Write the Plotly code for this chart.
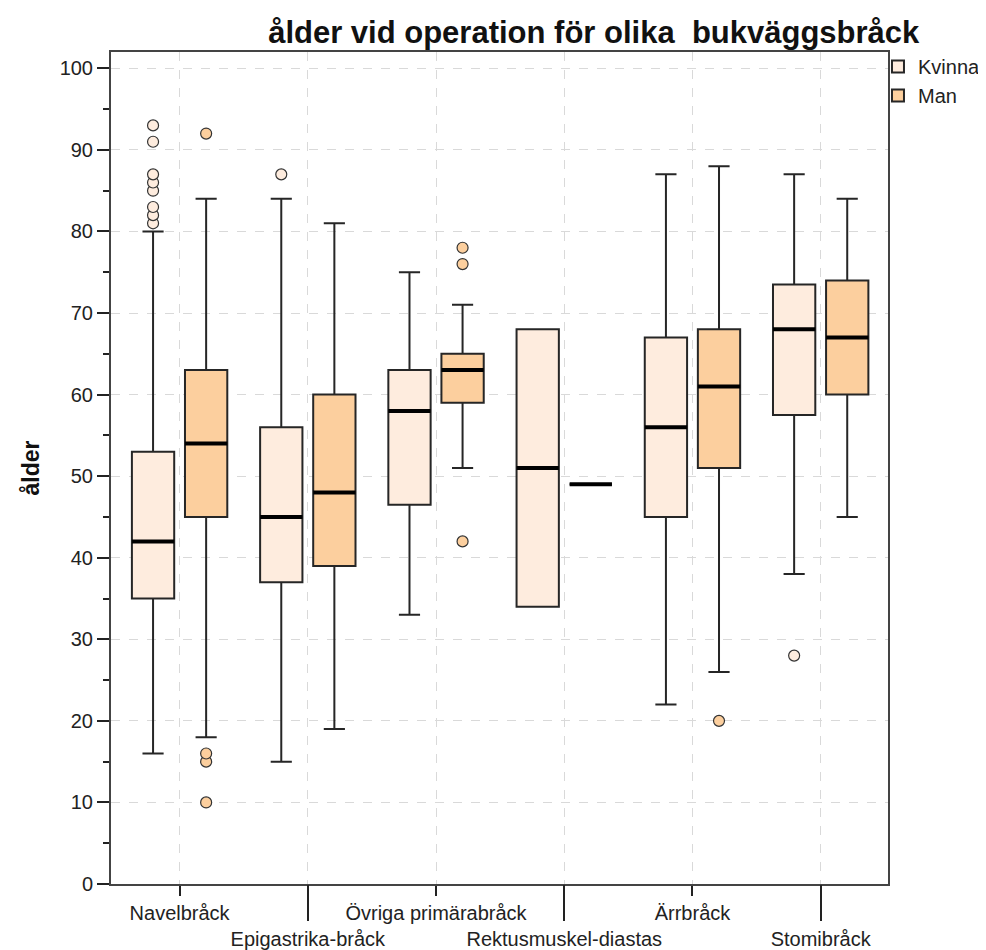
"""
Ålder vid operation för olika bukväggsbråck - boxplot (Kvinna / Man)
"""
import plotly.graph_objects as go

# kategorier (x-axel)
cats = ['Navelbråck', 'Epigastrika-bråck', 'Övriga primärabråck',
        'Rektusmuskel-diastas', 'Ärrbråck', 'Stomibråck']

# Kvinna - boxstatistik
kvinna_low = [16, 15, 33, 34, 22, 38]
kvinna_q1 = [35, 37, 46.5, 34, 45, 57.5]
kvinna_median = [42, 45, 58, 51, 56, 68]
kvinna_q3 = [53, 56, 63, 68, 67, 73.5]
kvinna_high = [80, 84, 75, 68, 87, 87]
kvinna_outliers = [[93, 91, 87, 86, 85, 83, 82, 81], [87], [], [], [], [28]]

# Man
man_low = [18, 19, 51, 49, 26, 45]
man_q1 = [45, 39, 59, 49, 51, 60]
man_median = [54, 48, 63, 49, 61, 67]
man_q3 = [63, 60, 65, 49, 68, 74]
man_high = [84, 81, 71, 49, 88, 84]
man_outliers = [[92, 16, 15, 10], [], [78, 76, 42], [], [20], []]

# y-axel
y_ticks = [0, 10, 20, 30, 40, 50, 60, 70, 80, 90, 100]

KVINNA_FILL = 'rgb(254,236,222)'
MAN_FILL = 'rgb(252,207,158)'
FONT = 'Liberation Sans, Arial, sans-serif'

fig = go.Figure()

series = [
    ('Kvinna', KVINNA_FILL, kvinna_low, kvinna_q1, kvinna_median, kvinna_q3, kvinna_high, kvinna_outliers),
    ('Man', MAN_FILL, man_low, man_q1, man_median, man_q3, man_high, man_outliers),
]

for name, fill, low, q1, med, q3, high, outl in series:
    fig.add_trace(go.Box(
        name=name,
        x=cats,
        y=outl,
        q1=q1, median=med, q3=q3,
        lowerfence=low, upperfence=high,
        offsetgroup=name,
        fillcolor=fill,
        line=dict(color='#262626', width=2),
        whiskerwidth=0.5,
        boxpoints='outliers',
        jitter=0, pointpos=0,
        marker=dict(color=fill, size=11, line=dict(color='#333333', width=1.2)),
    ))
    # tjock medianlinje ovanpå boxen
    fig.add_trace(go.Box(
        x=cats,
        q1=med, median=med, q3=med,
        lowerfence=med, upperfence=med,
        offsetgroup=name,
        fillcolor='rgba(0,0,0,0)',
        line=dict(color='black', width=4),
        whiskerwidth=0,
        boxpoints=False,
        showlegend=False,
        hoverinfo='skip',
    ))

# tom trace så att hjälpaxeln (långa streck) ritas
fig.add_trace(go.Scatter(x=[], y=[], xaxis='x2', yaxis='y',
                         showlegend=False, hoverinfo='skip'))

grid = dict(showgrid=True, gridcolor='#d9d9d9', griddash='dash', gridwidth=1)

# varannan etikett på en lägre rad (som i originalet)
x_ticktext = [c if i % 2 == 0 else '<br>' + c for i, c in enumerate(cats)]

fig.update_layout(
    width=978, height=942,
    margin=dict(l=103, r=98, t=44, b=66, autoexpand=False),
    paper_bgcolor='white', plot_bgcolor='white',
    boxmode='group', boxgap=0.172, boxgroupgap=0.203,
    font=dict(family=FONT, size=20, color='#222222'),
    title=dict(text='<b>ålder vid operation för olika  bukväggsbråck</b>',
               x=0.266, xanchor='left', y=0.9745, yanchor='middle',
               font=dict(size=31, color='#111111')),
    legend=dict(x=0.9871, xanchor='left', y=1.006, yanchor='top',
                font=dict(size=20), itemwidth=30, tracegroupgap=0,
                bgcolor='rgba(0,0,0,0)'),
    xaxis=dict(
        type='category', categoryorder='array', categoryarray=cats,
        range=[-0.535, 5.525],
        tickvals=cats, ticktext=x_ticktext, tickangle=0,
        ticks='outside', ticklen=10, tickwidth=2, tickcolor='#222222',
        showline=True, linecolor='#444444', linewidth=2, mirror=True,
        zeroline=False, **grid,
    ),
    # långa streck vid de nedre etiketterna
    xaxis2=dict(
        overlaying='x', anchor='y', side='bottom', type='linear',
        range=[-0.535, 5.525], autorange=False,
        tickvals=[1, 3, 5], ticktext=[' ', ' ', ' '], tickangle=0,
        ticks='outside', ticklen=36, tickwidth=2, tickcolor='#222222',
        showline=False, showgrid=False, zeroline=False,
    ),
    yaxis=dict(
        range=[0, 102], tickvals=y_ticks,
        ticks='outside', ticklen=12, tickwidth=2, tickcolor='#222222',
        minor=dict(dtick=5, ticks='outside', ticklen=6, tickwidth=2,
                   tickcolor='#222222', showgrid=False),
        showline=True, linecolor='#444444', linewidth=2, mirror=True,
        zeroline=False, **grid,
        title=dict(text='<b>ålder</b>', font=dict(size=23, color='#111111'), standoff=14),
    ),
)

fig.write_html('out.html')
